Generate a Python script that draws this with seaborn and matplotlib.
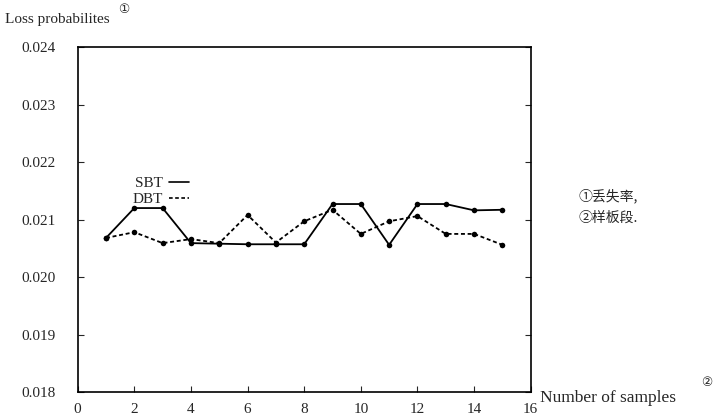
import matplotlib
matplotlib.use("Agg")
import pandas as pd
import numpy as np
import matplotlib.pyplot as plt
import seaborn as sns
from matplotlib.lines import Line2D

sns.set_style("ticks")
plt.rcParams['font.family'] = ['Liberation Serif', 'DejaVu Sans']

# values
samples = list(range(1, 16))
sbt = [0.02068, 0.02120, 0.02120, 0.02059, 0.02058, 0.02057, 0.02057, 0.02057,
       0.02127, 0.02127, 0.02056, 0.02127, 0.02127, 0.02116, 0.02117]
dbt = [0.02068, 0.02078, 0.02059, 0.02066, 0.02059, 0.02108, 0.02060, 0.02097,
       0.02117, 0.02075, 0.02097, 0.02106, 0.02075, 0.02075, 0.02056]
x_ticks = list(range(0, 17, 2))
y_ticks = [0.018, 0.019, 0.020, 0.021, 0.022, 0.023, 0.024]

df = pd.DataFrame({
    'samples': samples * 2,
    'loss': sbt + dbt,
    'scheme': ['SBT'] * len(sbt) + ['DBT'] * len(dbt),
})

fig = plt.figure(figsize=(7.26, 4.17), dpi=100)
ax = fig.add_axes([0.107, 0.06, 0.624, 0.827])

sns.lineplot(data=df, x='samples', y='loss', hue='scheme', style='scheme',
             palette={'SBT': 'black', 'DBT': 'black'},
             dashes={'SBT': '', 'DBT': (2.2, 1.5)},
             markers={'SBT': 'o', 'DBT': 'o'},
             markersize=4, linewidth=1.3, markeredgewidth=0,
             legend=False, ax=ax)

ax.set_xlim(0, 16)
ax.set_ylim(0.018, 0.024)
ax.set_xticks(x_ticks)
ax.set_yticks(y_ticks)
ax.set_yticklabels([f"{v:.3f}" for v in y_ticks])
ax.set_xlabel('')
ax.set_ylabel('')
ax.tick_params(axis='both', direction='in', length=4, labelsize=11, right=True)
ax.tick_params(axis='y', pad=16)
ax.tick_params(axis='x', pad=8)
for s in ax.spines.values():
    s.set_linewidth(1.2)
    s.set_color('black')

handles = [Line2D([], [], color='black', lw=1.2),
           Line2D([], [], color='black', lw=1.2, ls=(0, (2.2, 1.5)))]
ax.legend(handles, ['SBT', 'DBT'], loc='upper left', bbox_to_anchor=(0.09, 0.665),
          frameon=False, markerfirst=False, handlelength=1.3, handletextpad=0.4,
          labelspacing=0.15, fontsize=11)

fig.text(0.007, 0.945, 'Loss probabilites', fontsize=11, ha='left', va='baseline')
fig.text(0.163, 0.968, '①', fontsize=9, ha='left', va='baseline')
fig.text(0.744, 0.036, 'Number of samples', fontsize=12.5, ha='left', va='baseline')
fig.text(0.966, 0.074, '②', fontsize=9, ha='left', va='baseline')
fig.text(0.797, 0.52, '①丢失率,', fontsize=10, ha='left', va='baseline',
         family=['Noto Sans CJK SC', 'DejaVu Sans'])
fig.text(0.797, 0.468, '②样板段.', fontsize=10, ha='left', va='baseline',
         family=['Noto Sans CJK SC', 'DejaVu Sans'])

fig.savefig('out.png', dpi=100)
